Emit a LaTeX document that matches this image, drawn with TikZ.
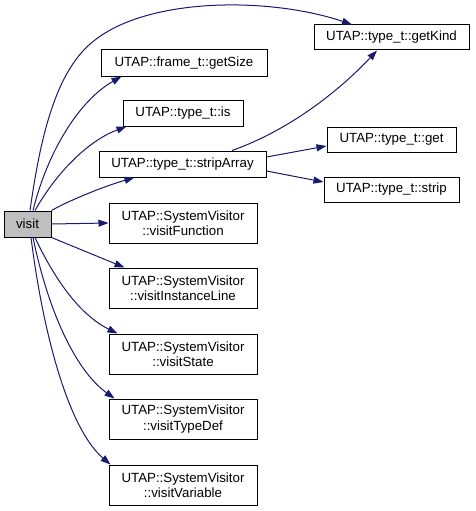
\documentclass[tikz,border=0pt]{standalone}
\usepackage{fontspec}
\setmainfont{Liberation Sans}
\usetikzlibrary{arrows.meta}
\definecolor{edgeblue}{HTML}{191970}
\definecolor{nodegray}{HTML}{BFBFBF}
\tikzset{
  fn/.style={draw=black, line width=1pt, fill=white, inner sep=0pt, minimum height=26pt, align=center,
    font=\fontsize{13.3}{15.5}\selectfont},
  fn2/.style={fn, minimum width=148pt, minimum height=40pt},
  call/.style={draw=edgeblue, line width=1pt, -{Triangle[length=10pt,width=7pt]}},
}
\begin{document}
\begin{tikzpicture}[x=1pt,y=-1pt]
\useasboundingbox (0,0) rectangle (475,511);
\node[fn, fill=nodegray, minimum width=47pt] (visit) at (27.5,224) {visit};
\node[fn, minimum width=155pt, minimum height=25pt] (getKind) at (391.5,37.5) {UTAP::type\_t::getKind};
\node[fn, minimum width=166pt] (getSize) at (184,63) {UTAP::frame\_t::getSize};
\node[fn, minimum width=120pt] (is) at (183,113) {UTAP::type\_t::is};
\node[fn, minimum width=167pt] (stripArray) at (182.5,164) {UTAP::type\_t::stripArray};
\node[fn, minimum width=129pt, minimum height=25pt] (get) at (391.5,139.5) {UTAP::type\_t::get};
\node[fn, minimum width=135pt, minimum height=25pt] (strip) at (391.5,189.5) {UTAP::type\_t::strip};
\node[fn2] (vFunction) at (183,223) {UTAP::SystemVisitor\\::visitFunction};
\node[fn2] (vInstance) at (183,288) {UTAP::SystemVisitor\\::visitInstanceLine};
\node[fn2] (vState) at (183,354) {UTAP::SystemVisitor\\::visitState};
\node[fn2] (vTypeDef) at (183,419) {UTAP::SystemVisitor\\::visitTypeDef};
\node[fn2] (vVariable) at (183,485) {UTAP::SystemVisitor\\::visitVariable};

\draw[call] ([xshift=2.5pt]visit.north) .. controls (40,140) and (55,70) .. (95,40)
  .. controls (150,-3) and (270,-3) .. ([xshift=-39.5pt]getKind.north);
\draw[call] ([xshift=5.5pt]visit.north) .. controls (48,150) and (80,100) .. ([xshift=21pt]getSize.south west);
\draw[call] ([xshift=7.5pt]visit.north) .. controls (58,170) and (90,140) .. ([xshift=4pt]is.south west);
\draw[call] (visit.north east) .. controls (70,200) and (105,186) .. ([xshift=36pt]stripArray.south west);
\draw[call] (visit.east) -- (vFunction.west);
\draw[call] (visit.south east) -- ([xshift=16pt]vInstance.north west);
\draw[call] ([xshift=7.5pt]visit.south) .. controls (55,280) and (80,315) .. ([xshift=9pt]vState.north west);
\draw[call] ([xshift=5.5pt]visit.south) .. controls (48,310) and (75,370) .. ([xshift=6pt]vTypeDef.north west);
\draw[call] ([xshift=3.5pt]visit.south) .. controls (44,340) and (70,430) .. ([xshift=2pt]vVariable.north west);
\draw[call] ([xshift=49.5pt]stripArray.north) .. controls (290,130) and (340,90) .. ([xshift=-14.5pt]getKind.south);
\draw[call] ([yshift=7pt]stripArray.east) -- ([yshift=-6.5pt]get.west);
\draw[call] ([yshift=-7pt]stripArray.east) -- ([yshift=7.5pt]strip.west);
\end{tikzpicture}
\end{document}
